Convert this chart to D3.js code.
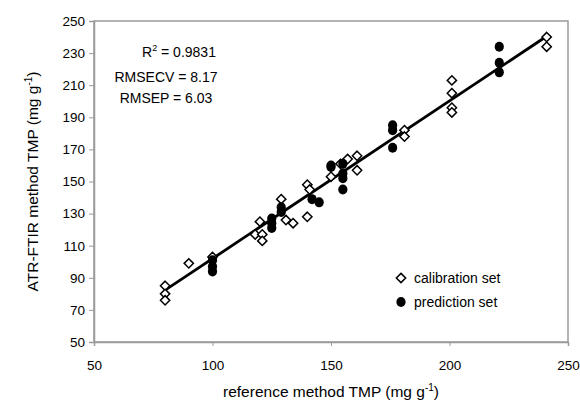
<!DOCTYPE html>
<html>
<head>
<meta charset="utf-8">
<script src="https://cdn.jsdelivr.net/npm/d3@7"></script>
<style>
  body { margin: 0; background: #fff; }
  svg { display: block; font-family: "Liberation Sans", Arial, sans-serif; }
</style>
</head>
<body>
<svg id="chart" width="580" height="410"></svg>
<script>
// calibration set (reference, ATR-FTIR)
var calX = [80, 80, 80, 90, 100, 118, 120, 121, 121, 129, 131, 134, 140, 140, 141, 150, 154, 157, 161, 161, 181, 181, 201, 201, 201, 201, 241, 241];
var calY = [85, 80, 76, 99, 103, 117, 125, 117, 113, 139, 126, 124, 128, 148, 145, 153, 161, 164, 166, 157, 182, 178, 213, 205, 196, 193, 240, 234];

// prediction set
var predX = [100, 100, 100, 125, 125, 125, 129, 129, 142, 145, 150, 150, 155, 155, 155, 155, 176, 176, 176, 221, 221, 221];
var predY = [101, 97, 94, 127, 124, 121, 134, 131, 139, 137, 160, 159, 161, 155, 152, 145, 185, 182, 171, 234, 224, 218];

// regression line end points
var fitX = [80, 241];
var fitY = [82.3, 240.5];

var xTicks = [50, 100, 150, 200, 250];
var yTicks = [50, 70, 90, 110, 130, 150, 170, 190, 210, 230, 250];
var statsLines = ["= 0.9831", "RMSECV = 8.17", "RMSEP = 6.03"];

var width = 580, height = 410;
var margin = {top: 21, right: 12, bottom: 68, left: 94};
var svg = d3.select("#chart");

var x = d3.scaleLinear().domain([50, 250]).range([margin.left, width - margin.right]);
var y = d3.scaleLinear().domain([50, 250]).range([height - margin.bottom, margin.top]);

var frameColor = "#9a9a9a";

// plot frame
svg.append("rect")
    .attr("x", x(50))
    .attr("y", y(250))
    .attr("width", x(250) - x(50))
    .attr("height", y(50) - y(250))
    .attr("fill", "none")
    .attr("stroke", frameColor)
    .attr("stroke-width", 1.5);

var xAxis = svg.append("g")
    .attr("transform", "translate(0," + y(50) + ")")
    .call(d3.axisBottom(x).tickValues(xTicks).tickSize(4).tickPadding(14));
var yAxis = svg.append("g")
    .attr("transform", "translate(" + x(50) + ",0)")
    .call(d3.axisLeft(y).tickValues(yTicks).tickSize(5).tickPadding(4));

[xAxis, yAxis].forEach(function(ax) {
    ax.select(".domain").attr("stroke", frameColor).attr("stroke-width", 1.5);
    ax.selectAll(".tick line").attr("stroke", frameColor);
    ax.selectAll(".tick text")
        .attr("font-family", "Liberation Sans, Arial, sans-serif")
        .attr("font-size", 13.5)
        .attr("fill", "#000");
});

// regression line
svg.append("line")
    .attr("x1", x(fitX[0]))
    .attr("y1", y(fitY[0]))
    .attr("x2", x(fitX[1]))
    .attr("y2", y(fitY[1]))
    .attr("stroke", "#000")
    .attr("stroke-width", 2.8);

// calibration diamonds
var diamond = d3.symbol().type(d3.symbolDiamond2).size(55);
svg.append("g").selectAll("path")
    .data(d3.range(calX.length))
    .enter().append("path")
    .attr("d", diamond)
    .attr("transform", function(i) { return "translate(" + x(calX[i]) + "," + y(calY[i]) + ")"; })
    .attr("fill", "#fff")
    .attr("stroke", "#000")
    .attr("stroke-width", 1.5);

// prediction circles
svg.append("g").selectAll("ellipse")
    .data(d3.range(predX.length))
    .enter().append("ellipse")
    .attr("cx", function(i) { return x(predX[i]); })
    .attr("cy", function(i) { return y(predY[i]); })
    .attr("rx", 4.6)
    .attr("ry", 5)
    .attr("fill", "#000");

// stats text
var st = svg.append("text")
    .attr("x", 142)
    .attr("y", 57)
    .attr("font-size", 14)
    .attr("fill", "#000");
st.append("tspan").text("R");
st.append("tspan").attr("dy", -6).attr("font-size", 9).text("2");
st.append("tspan").attr("dy", 6).text(" " + statsLines[0]);

svg.append("text").attr("x", 166).attr("y", 82).attr("text-anchor", "middle")
    .attr("font-size", 14).text(statsLines[1]);
svg.append("text").attr("x", 166).attr("y", 103).attr("text-anchor", "middle")
    .attr("font-size", 14).text(statsLines[2]);

// legend
var lg = svg.append("g");
lg.append("path")
    .attr("d", diamond)
    .attr("transform", "translate(401,278)")
    .attr("fill", "#fff")
    .attr("stroke", "#000")
    .attr("stroke-width", 1.5);
lg.append("text").attr("x", 414).attr("y", 283).attr("font-size", 14).text("calibration set");
lg.append("ellipse").attr("cx", 401).attr("cy", 302).attr("rx", 4.6).attr("ry", 5).attr("fill", "#000");
lg.append("text").attr("x", 414).attr("y", 307).attr("font-size", 14).text("prediction set");

// axis titles
var xt = svg.append("text")
    .attr("x", x(150))
    .attr("y", 397)
    .attr("text-anchor", "middle")
    .attr("font-size", 15.5);
xt.append("tspan").text("reference method TMP (mg g");
xt.append("tspan").attr("dy", -6).attr("font-size", 10).text("-1");
xt.append("tspan").attr("dy", 6).text(")");

var yt = svg.append("text")
    .attr("transform", "translate(38," + y(150) + ") rotate(-90)")
    .attr("text-anchor", "middle")
    .attr("font-size", 15.5);
yt.append("tspan").text("ATR-FTIR method TMP (mg g");
yt.append("tspan").attr("dy", -6).attr("font-size", 10).text("-1");
yt.append("tspan").attr("dy", 6).text(")");
</script>
</body>
</html>
